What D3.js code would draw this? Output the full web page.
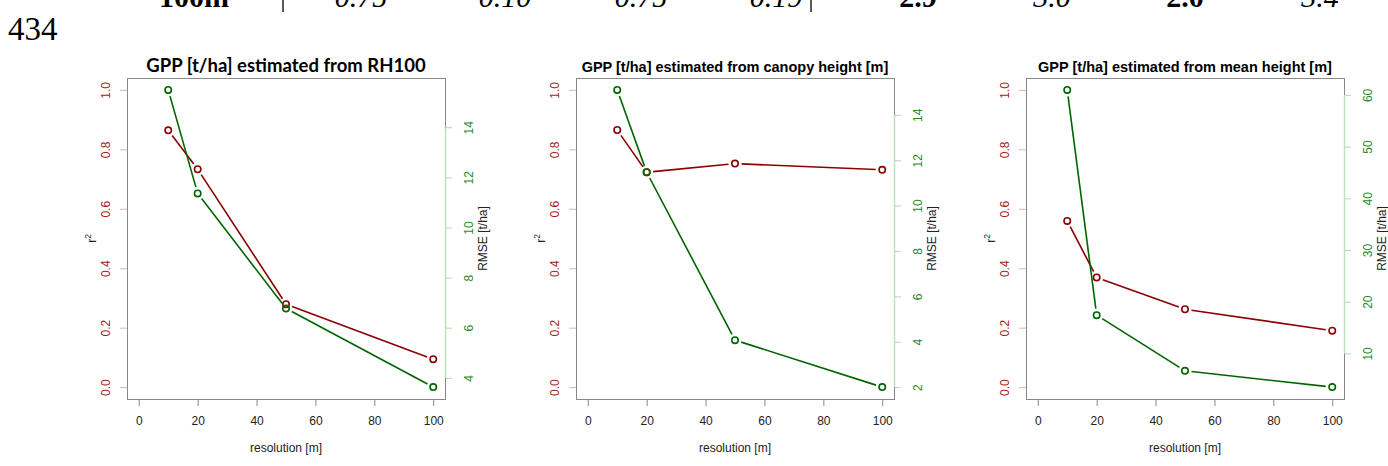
<!DOCTYPE html>
<html>
<head>
<meta charset="utf-8">
<script src="https://cdn.jsdelivr.net/npm/d3@7"></script>
<style>
  html, body { margin: 0; padding: 0; background: #fff; }
  svg { display: block; }
</style>
</head>
<body>
<div id="chart"></div>
<script>
// values
const resolution = [10, 20, 50, 100];
const xTicks = [0, 20, 40, 60, 80, 100];
const r2Ticks = [0, 0.2, 0.4, 0.6, 0.8, 1.0];

const titles = [
    'GPP [t/ha] estimated from RH100',
    'GPP [t/ha] estimated from canopy height [m]',
    'GPP [t/ha] estimated from mean height [m]'
];
const r2Rh100 = [0.864, 0.733, 0.279, 0.094];
const rmseRh100 = [15.49, 11.36, 6.77, 3.63];
const r2Canopy = [0.865, 0.723, 0.752, 0.731];
const rmseCanopy = [15.1, 11.47, 4.07, 2.0];
const r2Mean = [0.559, 0.369, 0.262, 0.190];
const rmseMean = [60.97, 17.4, 6.63, 3.48];
const rmseTicksRh100 = [4, 6, 8, 10, 12, 14];
const rmseTicksCanopy = [2, 4, 6, 8, 10, 12, 14];
const rmseTicksMean = [10, 20, 30, 40, 50, 60];

// cut-off table row above the figure
const tableRow = ['100m', '0.75', '0.10', '0.75', '0.19', '2.9', '3.0', '2.0', '3.4'];
const tableX = [194, 361, 505, 641, 776, 918, 1052, 1185, 1320];
const tableBold = [true, false, false, false, false, true, false, true, false];
const tableRules = [283, 811];

const panels = [
    { title: titles[0], r2: r2Rh100, rmse: rmseRh100, rmseTicks: rmseTicksRh100, left: 127, titleFont: 'Lato, "Open Sans", sans-serif', titleSize: 18.5 },
    { title: titles[1], r2: r2Canopy, rmse: rmseCanopy, rmseTicks: rmseTicksCanopy, left: 576, titleFont: '"Liberation Sans", Arial, sans-serif', titleSize: 14.5 },
    { title: titles[2], r2: r2Mean, rmse: rmseMean, rmseTicks: rmseTicksMean, left: 1026, titleFont: '"Liberation Sans", Arial, sans-serif', titleSize: 14.5 }
];

const width = 1388;
const height = 466;
const boxW = 318;
const boxTop = 78;
const boxBottom = 399;
const redLine = '#8b0000';
const greenLine = '#006400';
const sans = '"Liberation Sans", Arial, sans-serif';

const svg = d3.select('#chart').append('svg')
    .attr('width', width)
    .attr('height', height);

svg.append('rect').attr('width', width).attr('height', height).attr('fill', '#fff');

// page text above the figure (the row is cut by the page edge in the original)
const header = svg.append('g').attr('font-family', '"Liberation Serif", "Times New Roman", serif');
header.selectAll('text.row')
    .data(tableRow)
    .enter()
    .append('text')
    .attr('class', 'row')
    .attr('x', (d, i) => tableX[i])
    .attr('y', 7)
    .attr('text-anchor', 'middle')
    .attr('font-size', 30)
    .attr('font-weight', (d, i) => tableBold[i] ? 'bold' : 'normal')
    .attr('font-style', (d, i) => tableBold[i] ? 'normal' : 'italic')
    .text(d => d);
header.selectAll('line.rule')
    .data(tableRules)
    .enter()
    .append('line')
    .attr('x1', d => d).attr('x2', d => d)
    .attr('y1', 0).attr('y2', 12)
    .attr('stroke', '#000').attr('stroke-width', 1.3);
header.append('text')
    .attr('x', 8).attr('y', 40)
    .attr('font-size', 33)
    .text('434');

function drawSeries(g, xs, ys, values, color) {
    const pts = resolution.map((r, i) => [xs(r), ys(values[i])]);
    const gap = 6.5;
    for (let i = 0; i < pts.length - 1; i++) {
        const [x1, y1] = pts[i];
        const [x2, y2] = pts[i + 1];
        const len = Math.hypot(x2 - x1, y2 - y1);
        if (len <= gap * 2) continue;
        const ux = (x2 - x1) / len;
        const uy = (y2 - y1) / len;
        g.append('line')
            .attr('x1', x1 + ux * gap).attr('y1', y1 + uy * gap)
            .attr('x2', x2 - ux * gap).attr('y2', y2 - uy * gap)
            .attr('stroke', color).attr('stroke-width', 1.6);
    }
    g.selectAll(null)
        .data(pts)
        .enter()
        .append('circle')
        .attr('cx', d => d[0])
        .attr('cy', d => d[1])
        .attr('r', 3.2)
        .attr('fill', 'none')
        .attr('stroke', color)
        .attr('stroke-width', 1.6);
}

function drawPanel(p) {
    const left = p.left;
    const right = left + boxW;
    const g = svg.append('g').attr('font-family', sans);

    const x = d3.scaleLinear().domain([-4, 104]).range([left, right]);
    const y = d3.scaleLinear().domain([-0.04, 1.04]).range([boxBottom, boxTop]);
    const [lo, hi] = d3.extent(p.rmse);
    const pad = (hi - lo) * 0.04;
    const yr = d3.scaleLinear().domain([lo - pad, hi + pad]).range([boxBottom, boxTop]);

    // x axis
    const xAxis = g.append('g')
        .attr('transform', `translate(0,${boxBottom})`)
        .call(d3.axisBottom(x).tickValues(xTicks).tickSize(7).tickPadding(10).tickSizeOuter(0));
    xAxis.select('.domain').attr('stroke', '#888').attr('d', `M${x(0)},0.5H${x(100)}`);
    xAxis.selectAll('.tick line').attr('stroke', '#888');
    xAxis.selectAll('.tick text').attr('fill', '#222').attr('font-size', 12).attr('font-family', sans);

    // left r2 axis
    const yAxis = g.append('g')
        .attr('transform', `translate(${left},0)`)
        .call(d3.axisLeft(y).tickValues(r2Ticks).tickFormat(d3.format('.1f')).tickSize(7).tickSizeOuter(0));
    yAxis.select('.domain').remove();
    yAxis.selectAll('.tick line').attr('stroke', '#e2b4b4');
    yAxis.selectAll('.tick text')
        .attr('fill', '#a51c1c')
        .attr('font-size', 12)
        .attr('font-family', sans)
        .attr('text-anchor', 'middle')
        .attr('x', 0)
        .attr('dy', null)
        .attr('transform', 'translate(-17,0) rotate(-90)');

    // right RMSE axis
    const rAxis = g.append('g')
        .attr('transform', `translate(${right},0)`)
        .call(d3.axisRight(yr).tickValues(p.rmseTicks).tickFormat(d3.format('d')).tickSize(7).tickSizeOuter(0));
    rAxis.select('.domain').remove();
    rAxis.selectAll('.tick line').attr('stroke', '#b4d8b4');
    rAxis.selectAll('.tick text')
        .attr('fill', '#2a8a2a')
        .attr('font-size', 12)
        .attr('font-family', sans)
        .attr('text-anchor', 'middle')
        .attr('x', 0)
        .attr('dy', null)
        .attr('transform', 'translate(28,0) rotate(-90)');

    // box
    g.append('rect')
        .attr('x', left + 0.5).attr('y', boxTop + 0.5)
        .attr('width', boxW).attr('height', boxBottom - boxTop)
        .attr('fill', 'none')
        .attr('stroke', '#888');
    // the RMSE axis line sits on top of the box edge
    g.append('line')
        .attr('x1', right + 0.5).attr('x2', right + 0.5)
        .attr('y1', yr(d3.min(p.rmseTicks))).attr('y2', yr(d3.max(p.rmseTicks)))
        .attr('stroke', '#bfe0bf').attr('stroke-width', 1.5);

    drawSeries(g, x, y, p.r2, redLine);
    drawSeries(g, x, yr, p.rmse, greenLine);

    // labels
    g.append('text')
        .attr('x', (left + right) / 2)
        .attr('y', boxTop - 6)
        .attr('text-anchor', 'middle')
        .attr('font-family', p.titleFont)
        .attr('font-weight', 'bold')
        .attr('font-size', p.titleSize)
        .text(p.title);

    g.append('text')
        .attr('x', (left + right) / 2)
        .attr('y', 452)
        .attr('text-anchor', 'middle')
        .attr('font-size', 12)
        .attr('fill', '#222')
        .text('resolution [m]');

    const r2Label = g.append('text')
        .attr('transform', `translate(${left - 31},${(boxTop + boxBottom) / 2}) rotate(-90)`)
        .attr('text-anchor', 'middle')
        .attr('font-size', 12)
        .attr('fill', '#222');
    r2Label.append('tspan').text('r');
    r2Label.append('tspan').attr('font-size', 8.5).attr('dy', -5).text('2');

    g.append('text')
        .attr('transform', `translate(${right + 42},${(boxTop + boxBottom) / 2}) rotate(-90)`)
        .attr('text-anchor', 'middle')
        .attr('font-size', 12)
        .attr('fill', '#222')
        .text('RMSE [t/ha]');
}

panels.forEach(drawPanel);
</script>
</body>
</html>
